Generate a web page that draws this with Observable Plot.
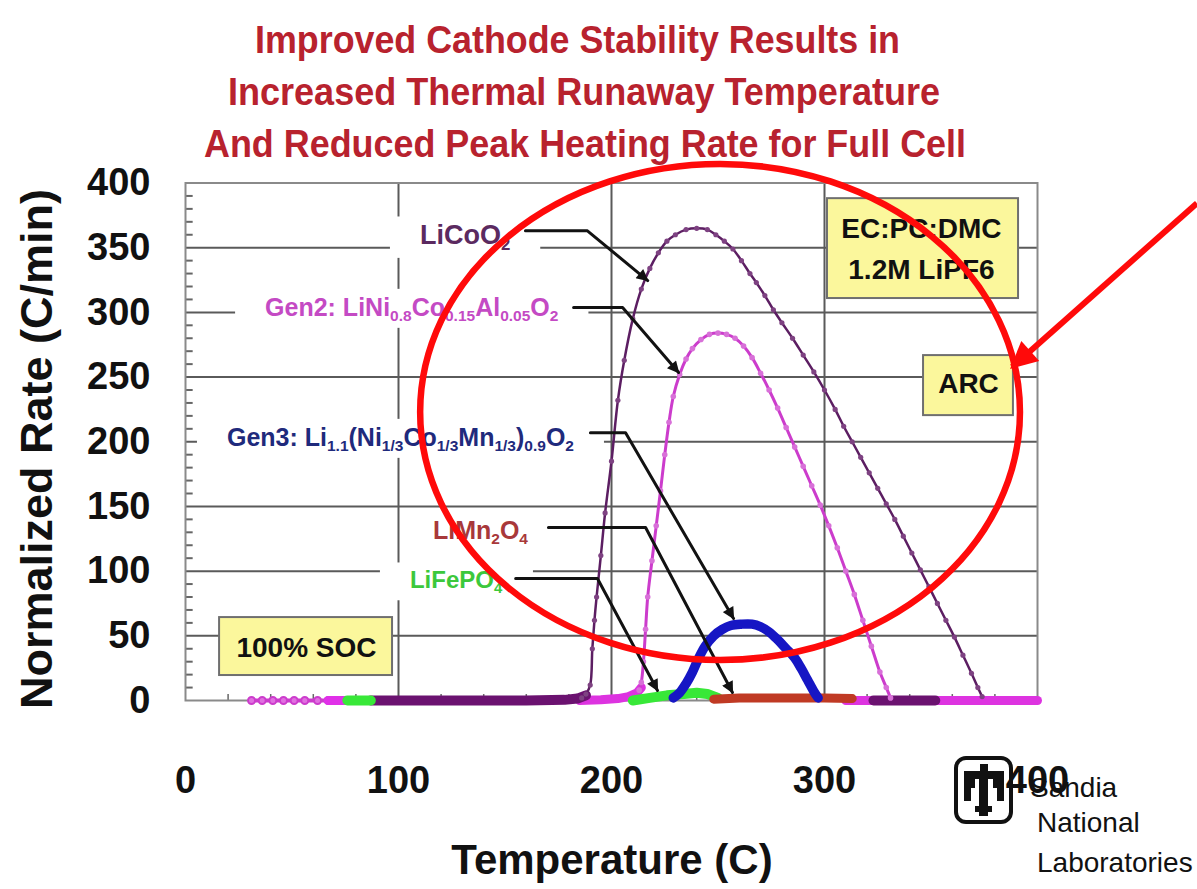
<!DOCTYPE html>
<html><head><meta charset="utf-8">
<script src="https://cdn.jsdelivr.net/npm/d3@7"></script>
<script src="https://cdn.jsdelivr.net/npm/@observablehq/plot@0.6"></script>
<style>
body{margin:0;background:#fff;font-family:"Liberation Sans",Arial,sans-serif;}
#wrap{width:1197px;height:889px;overflow:hidden;background:#fff;}
#wrap svg{display:block;}
</style></head><body>
<div id="wrap"></div>
<script>
// ---------- data ----------
const titleLines = ["Improved Cathode Stability Results in", "Increased Thermal Runaway Temperature", "And Reduced Peak Heating Rate for Full Cell"];
const xLabel = "Temperature (C)";
const yLabel = "Normalized Rate (C/min)";
const xTicks = [0, 100, 200, 300, 400];
const yTicks = [0, 50, 100, 150, 200, 250, 300, 350, 400];
const xGrid = [100, 200, 300];
const yGrid = [50, 100, 150, 200, 250, 300, 350];
const xMinor = [20, 40, 60, 80, 120, 140, 160, 180, 220, 240, 260, 280, 320, 340, 360, 380];
const yMinor = [10, 20, 30, 40, 60, 70, 80, 90, 110, 120, 130, 140, 160, 170, 180, 190, 210, 220, 230, 240, 260, 270, 280, 290, 310, 320, 330, 340, 360, 370, 380, 390];

// LiCoO2 (dark purple)
const licoo2Base = [[87, 0], [120, 0], [160, 0], [178, 0.5], [184, 1.5], [188, 4]];
const licoo2Curve = [[186, 2], [188, 5], [190, 12], [191, 40], [192, 62], [193, 80], [195, 112], [197, 145], [200, 185], [203, 232], [206, 263], [210, 295], [214, 318], [218, 334], [222, 346], [226, 355], [230, 360], [235, 364], [240, 365], [245, 364], [249, 360], [253, 355], [257, 349], [261, 340], [265, 330], [268, 323], [272, 313], [276, 302], [280, 292], [285, 280], [290, 267], [295, 254], [300, 240], [305, 225], [309, 212], [313, 200], [317, 188], [321, 176], [325, 164], [329, 152], [333, 140], [337, 127], [341, 114], [345, 101], [349, 88], [353, 75], [357, 62], [361, 49], [365, 35], [369, 21], [372, 10], [374, 3]];
const licoo2Tail = [[323, 0], [352, 0]];

// Gen2 LiNi0.8Co0.15Al0.05O2 (magenta)
const gen2Start = [[31, 0], [36, 0], [41, 0], [46, 0], [51, 0], [56, 0], [62, 0], [67, 0]];
const gen2Base = [[67, 0], [72, 0], [80, 0]];
const gen2Rise = [[185, 0], [195, 0.5], [203, 1.5], [208, 3], [212, 6], [214, 10]];
const gen2Curve = [[213, 8], [214, 14], [215, 30], [216, 55], [217, 80], [219, 108], [221, 135], [223, 162], [225, 190], [227, 215], [229, 235], [232, 252], [235, 264], [238, 272], [242, 279], [246, 283], [250, 284], [254, 283], [258, 280], [262, 274], [266, 265], [270, 253], [274, 240], [278, 226], [282, 211], [286, 196], [290, 181], [294, 166], [298, 151], [302, 135], [306, 118], [310, 100], [314, 82], [318, 62], [322, 42], [326, 22], [329, 10], [331, 2]];
const gen2Tail = [[310, 0], [400, 0]];

// Gen3 Li1.1(Ni1/3Co1/3Mn1/3)0.9O2 (blue)
const gen3Curve = [[229, 2], [232, 6], [235, 13], [238, 22], [241, 33], [244, 42], [248, 50], [252, 55], [256, 58], [261, 59], [266, 59], [270, 57], [274, 53], [278, 47], [282, 40], [286, 33], [289, 25], [292, 16], [295, 7], [297, 2]];

// LiMn2O4 (brown red)
const limn2o4 = [[248, 1], [260, 2], [280, 2], [300, 2], [313, 1.5]];

// LiFePO4 (green)
const lifepo4A = [[76, 0], [87, 0]];
const lifepo4B = [[210, 0], [218, 2], [226, 4], [234, 5], [240, 6], [245, 5], [250, 2]];

// ---------- annotations ----------
const seriesLabels = [
  {parts: [["LiCoO", 0], ["2", 1]], color: "#5b2a60", size: 27},
  {parts: [["Gen2: LiNi", 0], ["0.8", 1], ["Co", 0], ["0.15", 1], ["Al", 0], ["0.05", 1], ["O", 0], ["2", 1]], color: "#c44ac4", size: 25},
  {parts: [["Gen3: Li", 0], ["1.1", 1], ["(Ni", 0], ["1/3", 1], ["Co", 0], ["1/3", 1], ["Mn", 0], ["1/3", 1], [")", 0], ["0.9", 1], ["O", 0], ["2", 1]], color: "#1f2a7c", size: 25},
  {parts: [["LiMn", 0], ["2", 1], ["O", 0], ["4", 1]], color: "#a8383a", size: 25},
  {parts: [["LiFePO", 0], ["4", 1]], color: "#3cc83c", size: 24}
];
const labelAt = [[110.3, 359.4], [37.6, 303.7], [19.7, 203.2], [116.4, 131.4], [105.6, 92.7]];
const leaders = [
  [[159.6, 363], [188.7, 363], [217, 324.6]],
  [[182.2, 303.7], [205.2, 303.7], [231.5, 253.5]],
  [[190.1, 207], [206.6, 207], [257.3, 63.4]],
  [[170.4, 133.7], [216, 133.7], [256.8, 6.2]],
  [[155, 94.3], [193.4, 94.3], [221.6, 7.7]]
];
const boxTexts = ["EC:PC:DMC", "1.2M LiPF6", "ARC", "100% SOC"];
const boxes = [
  {x1: 301.4, x2: 391.1, y1: 310.7, y2: 387.9},
  {x1: 346.5, x2: 388.7, y1: 220.2, y2: 266.6},
  {x1: 16, x2: 97.2, y1: 19.3, y2: 64.1}
];
const boxTextAt = [[345.5, 364.8], [345.5, 333], [367.6, 245], [56.8, 40.2]];
const ringC = [251.2, 222.6], ringR = [140.8, 191.7];
const redArrow = [[475.1, 384], [388.3, 257.3]];

// ---------- build ----------
const FONT = "'Liberation Sans', Arial, sans-serif";
const xy = {x: d => d[0], y: d => d[1]};
const C_CO = "#5c1e62", C_G2 = "#cc3ccc", C_G3 = "#1616c4", C_MN = "#c03a24", C_FE = "#38e838";
const BOXFILL = "#fbf79c", LEADER = "#121212";

const wrap = d3.select("#wrap");
// title
const ts = wrap.append("svg").attr("width", 1197).attr("height", 160).style("overflow", "visible")
  .style("position", "relative").style("z-index", 2);
const tLayout = [[255, 53, 645], [228, 105, 712], [204, 157, 762]];
titleLines.forEach((t, i) => {
  ts.append("text").text(t).attr("x", tLayout[i][0]).attr("y", tLayout[i][1])
    .attr("textLength", tLayout[i][2]).attr("lengthAdjust", "spacingAndGlyphs")
    .attr("font-family", FONT).attr("font-weight", "bold").attr("font-size", 39)
    .attr("fill", "#b8222e");
});

const leaderRows = leaders.flatMap((pts, i) => pts.map(p => ({i, x: p[0], y: p[1]})));
const boxRows = boxTexts.map((t, i) => ({t, x: boxTextAt[i][0], y: boxTextAt[i][1]}));

const plot = Plot.plot({
  width: 1197, height: 729,
  marginLeft: 185, marginRight: 160, marginTop: 22.5, marginBottom: 189,
  x: {domain: [0, 400], label: null},
  y: {domain: [0, 400], label: null},
  style: {fontFamily: FONT, background: "transparent", overflow: "visible", color: "#111"},
  marks: [
    Plot.ruleY(yGrid, {stroke: "#5a5a5a", strokeWidth: 2}),
    Plot.ruleX(xGrid, {stroke: "#5a5a5a", strokeWidth: 2}),
    Plot.ruleY(yMinor, {x1: 0, x2: 3.6, stroke: "#666", strokeWidth: 2}),
    Plot.ruleX(xMinor, {y1: 0, y2: 4.6, stroke: "#666", strokeWidth: 1.5}),
    Plot.frame({stroke: "#8a8a8a", strokeWidth: 2}),
    Plot.axisX({ticks: xTicks, tickSize: 0, tickPadding: 66, fontSize: 38, fontWeight: "bold", label: null}),
    Plot.axisY({ticks: yTicks, tickSize: 0, tickPadding: 35, fontSize: 38, fontWeight: "bold", label: null}),
    Plot.rect(boxes, {x1: "x1", x2: "x2", y1: "y1", y2: "y2", fill: BOXFILL, stroke: "#6f6f6f", strokeWidth: 2}),
    // baselines
    Plot.line(gen2Start, {...xy, stroke: C_G2, strokeWidth: 4}),
    Plot.dot(gen2Start, {...xy, r: 3.5, stroke: C_G2, strokeWidth: 2, fill: "#e070e0"}),
    Plot.line(gen2Base, {...xy, stroke: "#e030e8", strokeWidth: 9}),
    Plot.line(gen2Rise, {...xy, stroke: "#dd33e0", strokeWidth: 9}),
    Plot.line(licoo2Base, {...xy, stroke: "#6b1270", strokeWidth: 10}),
    Plot.line(lifepo4A, {...xy, stroke: C_FE, strokeWidth: 10}),
    Plot.line(lifepo4B, {...xy, stroke: C_FE, strokeWidth: 10}),
    Plot.line(gen2Tail, {...xy, stroke: "#dd33e0", strokeWidth: 9}),
    Plot.line(limn2o4, {...xy, stroke: C_MN, strokeWidth: 9}),
    Plot.line(licoo2Tail, {...xy, stroke: "#6b1270", strokeWidth: 10}),
    // curves
    Plot.line(licoo2Curve, {...xy, stroke: C_CO, strokeWidth: 2.5, curve: "catmull-rom"}),
    Plot.dot(licoo2Curve, {...xy, r: 2.6, fill: "#7e4282", stroke: "none"}),
    Plot.line(gen2Curve, {...xy, stroke: C_G2, strokeWidth: 3, curve: "catmull-rom"}),
    Plot.dot(gen2Curve, {...xy, r: 2.8, fill: "#d870d8", stroke: "none"}),
    Plot.line(gen3Curve, {...xy, stroke: C_G3, strokeWidth: 9.5, curve: "catmull-rom"}),
    // leaders
    Plot.line(leaderRows, {x: "x", y: "y", z: "i", stroke: LEADER, strokeWidth: 3}),
    Plot.text(boxRows, {x: "x", y: "y", text: "t", fontSize: 28, fontWeight: "bold", fill: "#111"})
  ]
});
wrap.node().appendChild(plot);

const svg = d3.select(plot);
const sx = v => plot.scale("x").apply(v), sy = v => plot.scale("y").apply(v);
const defs = svg.append("defs");
defs.append("marker").attr("id", "ah").attr("viewBox", "0 0 10 10").attr("refX", 9).attr("refY", 5)
  .attr("markerWidth", 5).attr("markerHeight", 4).attr("orient", "auto")
  .append("path").attr("d", "M0,0L10,5L0,10z").attr("fill", LEADER);
defs.append("marker").attr("id", "ahr").attr("viewBox", "0 0 10 10").attr("refX", 9).attr("refY", 5)
  .attr("markerWidth", 5.5).attr("markerHeight", 4.5).attr("orient", "auto")
  .append("path").attr("d", "M0,0L10,5L0,10z").attr("fill", "#ff0a0a");
svg.selectAll(`[stroke="${LEADER}"] path, path[stroke="${LEADER}"]`).attr("marker-end", "url(#ah)");

// series labels with subscripts (on top) and their white backing (below the data)
const boxNode = svg.select(`g[fill="${BOXFILL}"]`).node();
const bgG = boxNode ? svg.insert("g", () => boxNode) : svg.append("g");
const labG = svg.append("g").attr("text-anchor", "start");
seriesLabels.forEach((lab, i) => {
  const s = lab.size;
  const t = labG.append("text").attr("x", sx(labelAt[i][0])).attr("y", sy(labelAt[i][1]) + 0.35 * s)
    .attr("text-anchor", "start")
    .attr("font-family", FONT).attr("font-weight", "bold").attr("font-size", s).attr("fill", lab.color);
  let down = false;
  lab.parts.forEach(([str, sub]) => {
    const sp = t.append("tspan").text(str);
    if (sub) { sp.attr("font-size", s * 0.62); if (!down) { sp.attr("dy", 0.2 * s); down = true; } }
    else if (down) { sp.attr("dy", -0.2 * s); down = false; }
  });
  const bb = t.node().getBBox();
  bgG.append("rect").attr("x", bb.x - 30).attr("y", bb.y - 4).attr("width", bb.width + 60).attr("height", bb.height + 8).attr("fill", "white");
});

// red ring and arrow
svg.append("ellipse").attr("cx", sx(ringC[0])).attr("cy", sy(ringC[1]))
  .attr("rx", sx(ringC[0] + ringR[0]) - sx(ringC[0])).attr("ry", sy(ringC[1]) - sy(ringC[1] + ringR[1]))
  .attr("fill", "none").attr("stroke", "#ff0a0a").attr("stroke-width", 6.5);
svg.append("line").attr("x1", sx(redArrow[0][0])).attr("y1", sy(redArrow[0][1]))
  .attr("x2", sx(redArrow[1][0])).attr("y2", sy(redArrow[1][1]))
  .attr("stroke", "#ff0a0a").attr("stroke-width", 6).attr("marker-end", "url(#ahr)");

// axis titles
svg.append("text").text(yLabel).attr("transform", "translate(36,289) rotate(-90)")
  .attr("text-anchor", "middle").attr("dy", "0.36em").attr("font-family", FONT)
  .attr("font-weight", "bold").attr("font-size", 45).attr("fill", "#111");
svg.append("text").text(xLabel).attr("x", 612).attr("y", 714).attr("text-anchor", "middle")
  .attr("font-family", FONT).attr("font-weight", "bold").attr("font-size", 42).attr("fill", "#111");

// Sandia logo
const lg = svg.append("g");
lg.append("rect").attr("x", 956).attr("y", 598).attr("width", 55).attr("height", 64).attr("rx", 10)
  .attr("fill", "white").attr("stroke", "#111").attr("stroke-width", 4);
[[980, 604, 8, 9], [964, 611, 40, 8], [979, 611, 9, 45], [964, 619, 7, 22], [971, 619, 4, 9],
 [997, 619, 7, 22], [993, 619, 4, 9], [975, 646, 17, 6]].forEach(r => {
  lg.append("rect").attr("x", r[0]).attr("y", r[1]).attr("width", r[2]).attr("height", r[3]).attr("fill", "#111");
});
["Sandia", "National", "Laboratories"].forEach((t, i) => {
  lg.append("text").text(t).attr("x", i === 0 ? 1030 : 1037).attr("y", [637, 672, 712][i])
    .attr("text-anchor", "start").attr("font-family", FONT).attr("font-size", 28).attr("fill", "#111");
});
// keep the "400" tick label drawn above the logo, as in the reference
const xtl = svg.selectAll('g[aria-label="x-axis tick label"]');
if (!xtl.empty()) svg.node().appendChild(xtl.node());
</script>
</body></html>
